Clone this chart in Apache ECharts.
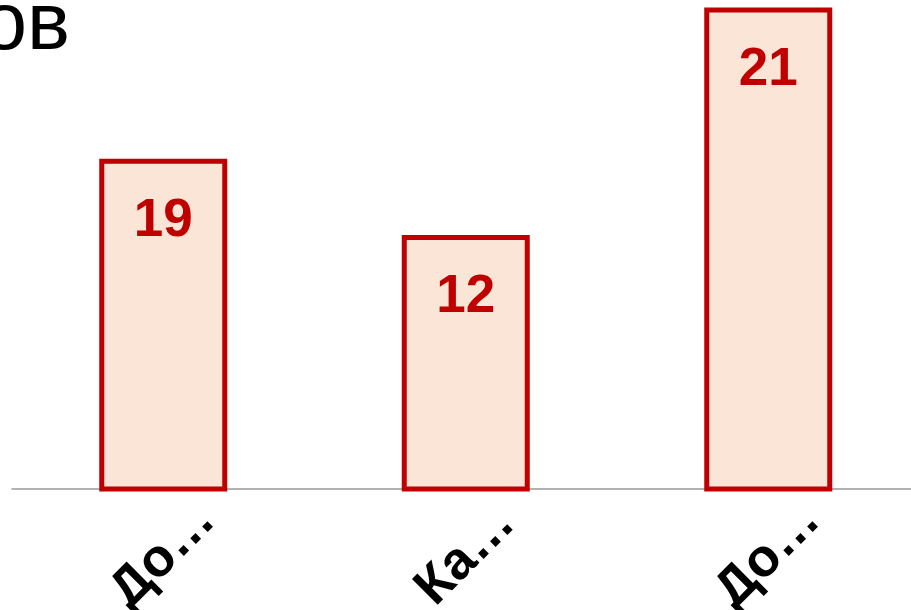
<!DOCTYPE html>
<html>
<head>
<meta charset="utf-8">
<script src="https://cdn.jsdelivr.net/npm/echarts@6/dist/echarts.min.js"></script>
<style>html,body{margin:0;padding:0;background:#fff;}#c{width:911px;height:610px;}</style>
</head>
<body>
<div id="c"></div>
<script>
// Data
const titleText = 'ов';
const categories = ['До…', 'Ка…', 'До…'];
const barHeights = [13.75, 10.6, 20.0];  // bar heights as drawn
const barLabels = [19, 12, 21];          // numbers printed on the bars
const yMax = 20;

const chart = echarts.init(document.getElementById('c'), null, {renderer: 'canvas'});
chart.setOption({
  animation: false,
  backgroundColor: '#ffffff',
  title: {
    text: titleText,
    left: -23,
    top: -19,
    textStyle: {fontFamily: 'Liberation Sans', fontSize: 81, fontWeight: 'normal', color: '#000000'}
  },
  grid: {left: 12, width: 907.5, top: 7.5, bottom: 118.5, containLabel: false, outerBoundsMode: 'none'},
  xAxis: {
    type: 'category',
    data: categories,
    offset: -2.5,
    axisLine: {show: true, onZero: false, lineStyle: {color: '#999999', width: 1.5}},
    axisTick: {show: false},
    axisLabel: {
      interval: 0,
      rotate: 45,
      align: 'center',
      verticalAlign: 'middle',
      margin: 67,
      fontFamily: 'Liberation Sans',
      fontSize: 53,
      fontWeight: 'bold',
      color: '#000000'
    }
  },
  yAxis: {
    type: 'value',
    min: 0,
    max: yMax,
    show: false,
    splitLine: {show: false}
  },
  series: [{
    type: 'bar',
    data: barHeights,
    barWidth: 128,
    itemStyle: {color: '#fbe5d6', borderColor: '#c00000', borderWidth: 5},
    label: {
      show: true,
      position: 'insideTop',
      distance: 36,
      formatter: (p) => String(barLabels[p.dataIndex]),
      fontFamily: 'Liberation Sans',
      fontSize: 53,
      fontWeight: 'bold',
      color: '#c00000'
    }
  }]
});
</script>
</body>
</html>
